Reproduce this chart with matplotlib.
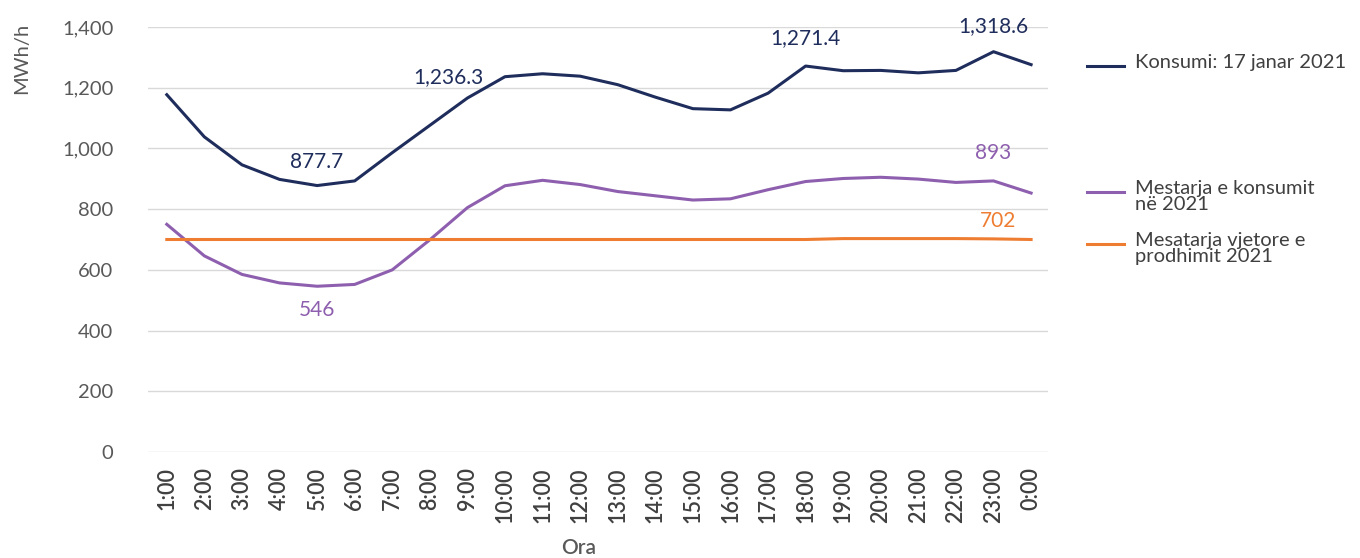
import matplotlib
matplotlib.use("Agg")
import matplotlib.pyplot as plt
from matplotlib.lines import Line2D

plt.rcParams["font.family"] = ["Lato", "DejaVu Sans"]

hours = ["1:00", "2:00", "3:00", "4:00", "5:00", "6:00", "7:00", "8:00", "9:00", "10:00",
         "11:00", "12:00", "13:00", "14:00", "15:00", "16:00", "17:00", "18:00", "19:00",
         "20:00", "21:00", "22:00", "23:00", "0:00"]

# consumption on 17 January 2021
konsumi = [1177, 1038, 946, 898, 877.7, 893, 986, 1076, 1166, 1236.3, 1246, 1238,
           1210, 1169, 1131, 1127, 1182, 1271.4, 1256, 1257, 1249, 1257, 1318.6, 1276]
# average consumption 2021
mesatarja = [750, 646, 585, 557, 546, 552, 600, 699, 805, 877, 895, 881,
             858, 844, 830, 834, 864, 891, 901, 905, 899, 888, 893, 853]
# yearly production average 2021
prodhimi = [700, 700, 700, 700, 700, 700, 700, 700, 700, 700, 700, 700,
            700, 700, 700, 700, 700, 700, 703, 703, 703, 703, 702, 700]

c_navy = "#1f2d5c"
c_purple = "#8e5fae"
c_orange = "#ee7d31"
c_text = "#595959"

fig = plt.figure(figsize=(13.6, 5.58), dpi=100)
ax = fig.add_axes([148 / 1360, 1 - 452 / 558, 900 / 1360, 425 / 558])

x = list(range(len(hours)))
ax.plot(x, konsumi, color=c_navy, lw=2.2)
ax.plot(x, mesatarja, color=c_purple, lw=2.2)
ax.plot(x, prodhimi, color=c_orange, lw=2.2)

ax.set_xlim(-0.5, 23.45)
ax.set_ylim(0, 1400)
ax.set_yticks(range(0, 1401, 200))
ax.set_yticklabels([f"{v:,}" for v in range(0, 1401, 200)])
ax.set_xticks(x)
ax.set_xticklabels(hours, rotation=90, fontweight="semibold")
ax.grid(axis="y", color="#d9d9d9", lw=1)
ax.set_axisbelow(True)
for s in ax.spines.values():
    s.set_visible(False)
ax.tick_params(axis="y", length=0, pad=25, labelsize=14.5, labelcolor=c_text)
ax.tick_params(axis="x", length=0, pad=11, labelsize=15.5, labelcolor="#404040")

# data labels
def lab(i, v, txt, col, dy, dx=0, va="bottom"):
    ax.annotate(txt, xy=(i, v), xytext=(dx, dy), textcoords="offset pixels",
                ha="center", va=va, color=col, fontsize=15)

lab(4, konsumi[4], "877.7", c_navy, 14)
lab(7.5, konsumi[9], "1,236.3", c_navy, -10)
lab(17, konsumi[17], "1,271.4", c_navy, 18)
lab(22, konsumi[22], "1,318.6", c_navy, 16)
lab(4, mesatarja[4], "546", c_purple, -14, va="top")
lab(22, mesatarja[22], "893", c_purple, 18)
lab(22, prodhimi[22], "702", c_orange, 8, dx=5)

fig.text(22 / 1360, 1 - 58 / 558, "MWh/h", rotation=90, ha="center", va="center",
         fontsize=14.5, color=c_text)
fig.text(579 / 1360, 1 - 548 / 558, "Ora", ha="center", va="center",
         fontsize=15, color=c_text, fontweight="semibold")

# legend
leg = [(c_navy, "Konsumi: 17 janar 2021", 66),
       (c_purple, "Mestarja e konsumit\nnë 2021", 192),
       (c_orange, "Mesatarja vjetore e\nprodhimit 2021", 244)]
for col, txt, yy in leg:
    fy = 1 - yy / 558
    fig.add_artist(Line2D([1087 / 1360, 1124 / 1360], [fy, fy], color=col, lw=2.2,
                          transform=fig.transFigure))
    fig.text(1135 / 1360, fy + 12 / 558, txt, ha="left", va="top", fontsize=14.5,
             color="#404040", linespacing=0.92)

fig.savefig("out.png", dpi=100)
